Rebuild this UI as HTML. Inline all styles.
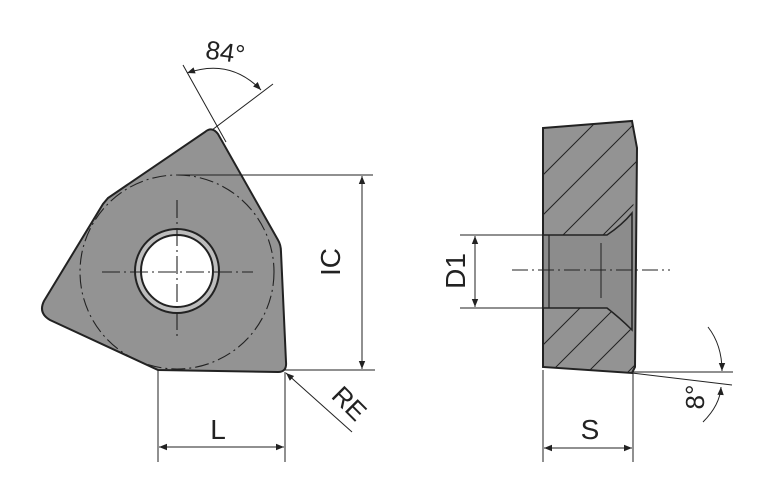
<!DOCTYPE html>
<html><head><style>body{margin:0;background:#fff}svg{display:block}text{font-family:"Liberation Sans",sans-serif;fill:#222}</style></head><body>
<svg width="768" height="501" viewBox="0 0 768 501" xmlns="http://www.w3.org/2000/svg">
<defs>
<marker id="a" viewBox="0 0 10 10" refX="10" refY="5" markerWidth="10" markerHeight="8" orient="auto-start-reverse" markerUnits="userSpaceOnUse"><path d="M0,1 L10,5 L0,9z" fill="#222"/></marker>
<clipPath id="sec"><path d="M543,128 L632,121 L637,148 L633,212 Q615,225 607,235 L543,235 Z M543,308 L607,308 Q620,320 633,332 L635,367 L632,373 L543,367 Z"/></clipPath>
</defs>
<g stroke="#222" fill="none">
<path d="M205,132 Q212,126 218,134 L278,240 Q281,245 281,252 L286,362 Q287,372 278,372 L158,370 L50,320 Q38,313 44,301 L103,204 L108,198 Z" fill="#939393" stroke-width="2"/>
<circle cx="177" cy="272" r="97" stroke-dasharray="14,4,2,4" stroke-width="1.1"/>
<circle cx="177" cy="271" r="42" fill="#bdbdbd" stroke-width="2"/>
<circle cx="177" cy="271" r="36" fill="#fff" stroke-width="2"/>
<path d="M102,272 H253 M177,200 V340" stroke-dasharray="18,4,2,4" stroke-width="1.1"/>
<path d="M178,175 H373 M285,370 H375" stroke-width="1"/>
<path d="M362,176 V369" stroke-width="1" marker-start="url(#a)" marker-end="url(#a)"/>
<path d="M183,65 L226,142 M273,84 L212,130" stroke-width="1"/>
<path d="M187,73 Q230,58 261,90" stroke-width="1" marker-start="url(#a)" marker-end="url(#a)"/>
<path d="M158,370 V462 M285,372 V462" stroke-width="1"/>
<path d="M159,447 H284" stroke-width="1" marker-start="url(#a)" marker-end="url(#a)"/>
<path d="M352,432 L286,373" stroke-width="1" marker-end="url(#a)"/>
<path d="M543,128 L632,121 L637,148 L635,367 L632,373 L543,367 Z" fill="#939393" stroke-width="2"/>
<path d="M543,235 H607 Q622,225 632,213 V330 Q620,318 607,308 H543 Z" fill="#8c8c8c" stroke-width="1.5"/>
<path d="M549,235 V308 M632,121 L637,148" stroke-width="1.2"/>
<g clip-path="url(#sec)" stroke-width="1">
<path d="M543,175 L600,118 M543,215 L640,118 M550,248 L660,138 M580,258 L660,178 M543,345 L660,228 M543,380 L660,263 M570,390 L660,300 M610,390 L670,330"/>
</g>
<path d="M512,270 H670" stroke-dasharray="16,4,2,4" stroke-width="1.1"/>
<path d="M601,243 V298" stroke-width="1"/>
<path d="M460,235 H543 M460,308 H543" stroke-width="1"/>
<path d="M475,236 V307" stroke-width="1" marker-start="url(#a)" marker-end="url(#a)"/>
<path d="M543,370 V462 M633,373 V462" stroke-width="1"/>
<path d="M544,448 H632" stroke-width="1" marker-start="url(#a)" marker-end="url(#a)"/>
<path d="M632,372 H733 M632,373 L732,385" stroke-width="1"/>
<path d="M708,327 Q722,345 722,371" stroke-width="1" marker-end="url(#a)"/>
<path d="M703,422 Q720,405 721,387" stroke-width="1" marker-end="url(#a)"/>
</g>
<text x="206" y="61" font-size="26" transform="rotate(8 225 50)">84°</text>
<text x="350" y="272" font-size="28" text-anchor="middle" transform="rotate(-90 340 272)">IC</text>
<text x="218" y="439" font-size="28" text-anchor="middle">L</text>
<text x="350" y="411" font-size="26" text-anchor="middle" transform="rotate(45 348 402)">RE</text>
<text x="455" y="281" font-size="28" text-anchor="middle" transform="rotate(-90 455 271)">D1</text>
<text x="590" y="439" font-size="28" text-anchor="middle">S</text>
<text x="700" y="411" font-size="26" text-anchor="middle" transform="rotate(-90 695 402)">8°</text>
</svg>
</body></html>
